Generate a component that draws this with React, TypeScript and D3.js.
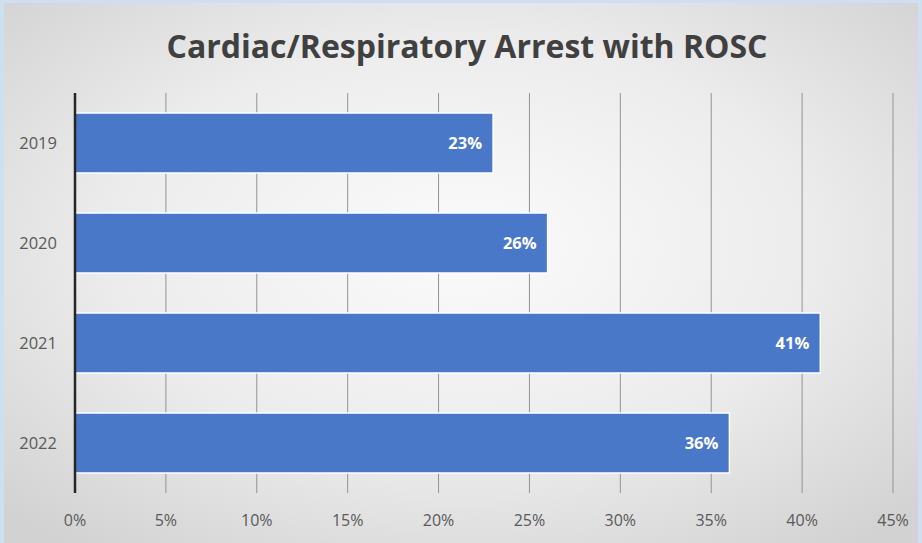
import React, { useEffect, useRef } from 'react';
import * as d3 from 'd3';

// 数据
const years = ['2019', '2020', '2021', '2022'];
const rosc = [23, 26, 41, 36];
const xTicks = [0, 5, 10, 15, 20, 25, 30, 35, 40, 45];

const W = 922, H = 543;

const App: React.FC = () => {
  const svgRef = useRef<SVGSVGElement>(null);

  useEffect(() => {
    if (!svgRef.current) return;
    const svg = d3.select(svgRef.current);
    svg.selectAll('*').remove();

    const defs = svg.append('defs');
    const grad = defs.append('radialGradient').attr('id', 'bg')
      .attr('cx', '50%').attr('cy', '45%').attr('r', '70%');
    grad.append('stop').attr('offset', '0%').attr('stop-color', '#fbfbfb');
    grad.append('stop').attr('offset', '55%').attr('stop-color', '#ececec');
    grad.append('stop').attr('offset', '100%').attr('stop-color', '#d2d2d2');

    // 外框淡蓝色
    svg.append('rect').attr('width', W).attr('height', H).attr('fill', '#cfdff2');
    svg.append('rect').attr('x', 4).attr('y', 3).attr('width', W - 8).attr('height', H - 3)
      .attr('fill', 'url(#bg)');

    const x = d3.scaleLinear().domain([0, 45]).range([75, 893]);
    const y = d3.scaleBand().domain(years).range([93, 493]).paddingInner(0.4).paddingOuter(0.2);

    // 网格线
    svg.append('g').selectAll('line').data(xTicks.slice(1)).enter().append('line')
      .attr('x1', d => x(d)).attr('x2', d => x(d))
      .attr('y1', 93).attr('y2', 493)
      .attr('stroke', '#939393').attr('stroke-width', 1);

    // 条形
    svg.append('g').selectAll('rect').data(rosc).enter().append('rect')
      .attr('x', x(0)).attr('y', (d, i) => y(years[i])!)
      .attr('width', d => x(d) - x(0)).attr('height', y.bandwidth())
      .attr('fill', '#4a78c8').attr('stroke', '#ffffff').attr('stroke-width', 1.5);

    // 纵轴
    svg.append('line').attr('x1', x(0)).attr('x2', x(0)).attr('y1', 93).attr('y2', 493)
      .attr('stroke', '#262626').attr('stroke-width', 2.5);

    // 数值标签
    svg.append('g').selectAll('text').data(rosc).enter().append('text')
      .attr('x', d => x(d) - 11).attr('y', (d, i) => y(years[i])! + y.bandwidth() / 2)
      .attr('dy', '0.35em').attr('text-anchor', 'end')
      .attr('fill', '#ffffff').attr('font-weight', 'bold').attr('font-size', 16.5)
      .attr('font-family', 'Open Sans, sans-serif')
      .text(d => `${d}%`);

    // 年份
    svg.append('g').selectAll('text').data(years).enter().append('text')
      .attr('x', 57).attr('y', d => y(d)! + y.bandwidth() / 2)
      .attr('dy', '0.35em').attr('text-anchor', 'end')
      .attr('fill', '#595959').attr('font-size', 16.5)
      .attr('font-family', 'Open Sans, sans-serif')
      .text(d => d);

    // x 轴刻度
    svg.append('g').selectAll('text').data(xTicks).enter().append('text')
      .attr('x', d => x(d)).attr('y', 526).attr('text-anchor', 'middle')
      .attr('fill', '#595959').attr('font-size', 16)
      .attr('font-family', 'Open Sans, sans-serif')
      .text(d => `${d}%`);

    // 标题
    svg.append('text').attr('x', 467).attr('y', 58).attr('text-anchor', 'middle')
      .attr('fill', '#404040').attr('font-weight', 'bold').attr('font-size', 32)
      .attr('font-family', 'Open Sans, sans-serif')
      .text('Cardiac/Respiratory Arrest with ROSC');
  }, []);

  return (
    <div style={{ position: 'absolute', left: 0, top: 0 }}>
      <svg ref={svgRef} width={W} height={H} style={{ display: 'block' }}></svg>
    </div>
  );
};

export default App;
